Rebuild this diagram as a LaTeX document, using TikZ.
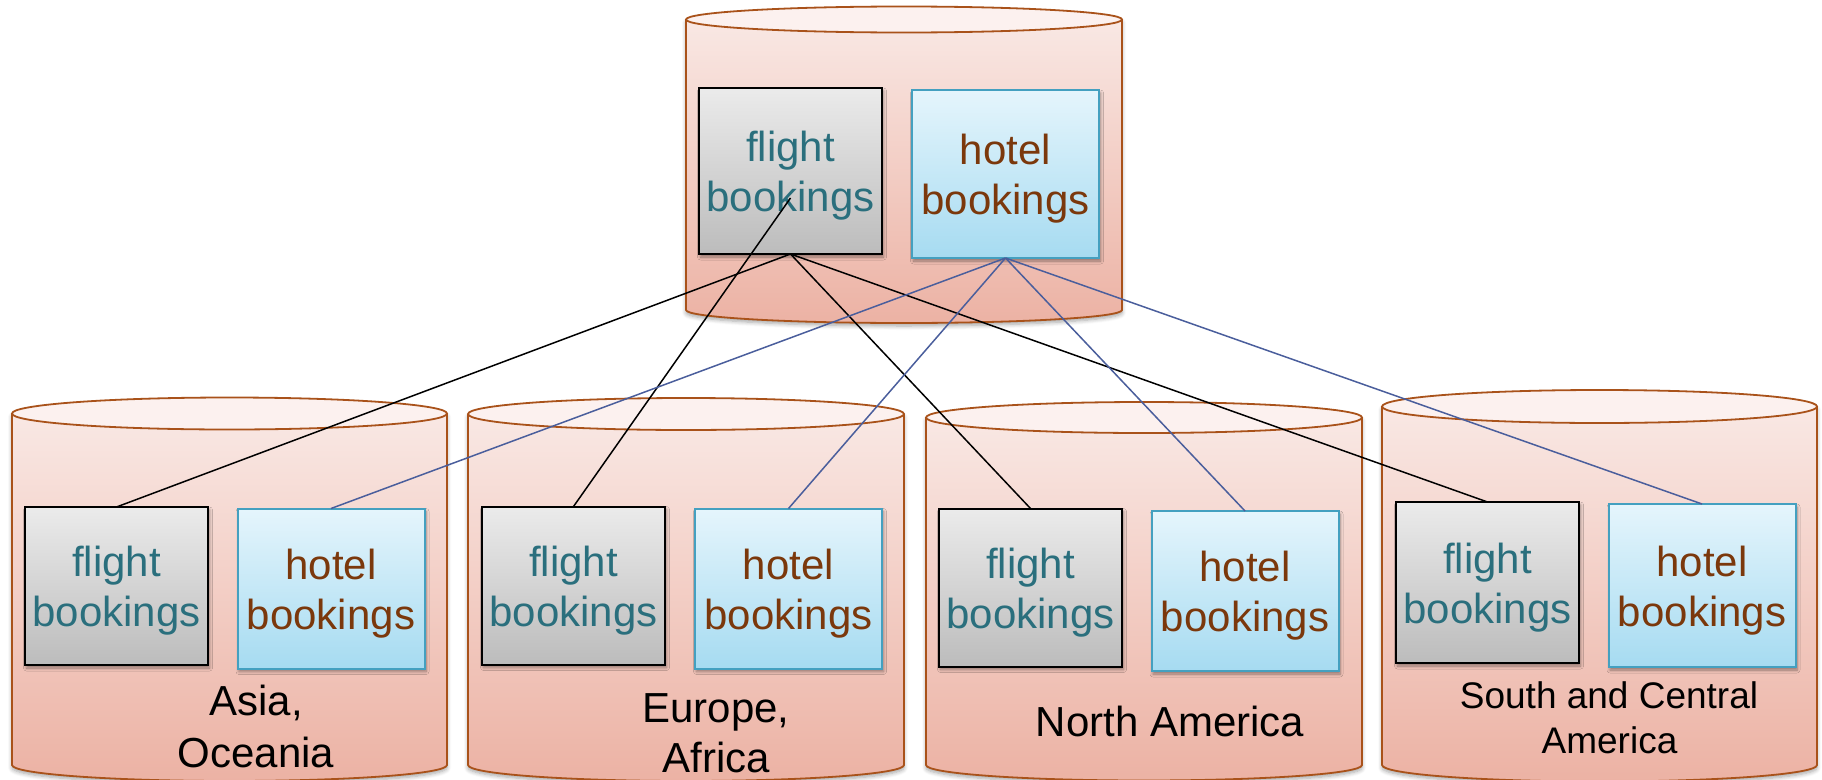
\documentclass[tikz,border=0pt]{standalone}
\usepackage{fontspec}
\setmainfont{Liberation Sans}
\usetikzlibrary{shadows.blur}

\definecolor{cyledge}{HTML}{A9521A}
\definecolor{cylhi}{HTML}{F9E8E4}
\definecolor{cyllo}{HTML}{ECB2A4}
\definecolor{cyllid}{HTML}{FCF1EF}
\definecolor{flighthi}{HTML}{EBEBEB}
\definecolor{flightlo}{HTML}{BCBCBC}
\definecolor{hotelhi}{HTML}{E5F5FC}
\definecolor{hotello}{HTML}{A6DBF1}
\definecolor{hoteledge}{HTML}{44A0C0}
\definecolor{flighttext}{HTML}{2A6F7D}
\definecolor{hoteltext}{HTML}{7B380C}
\definecolor{hotelwire}{HTML}{4A5E9C}

\tikzset{
  cylbody/.style={top color=cylhi, bottom color=cyllo,
    blur shadow={shadow xshift=0pt, shadow yshift=-3pt, shadow opacity=35,
      shadow blur radius=4pt, shadow blur steps=6}},
  cylrim/.style={draw=cyledge, line width=1.8pt},
  cyllidstyle/.style={draw=cyledge, line width=1.8pt, fill=cyllid},
  boxshadow/.style={blur shadow={shadow xshift=1.5pt, shadow yshift=-3pt,
      shadow opacity=40, shadow blur radius=3pt, shadow blur steps=6}},
  flightbox/.style={rectangle, draw=black, line width=2pt, outer sep=0pt,
    top color=flighthi, bottom color=flightlo, boxshadow,
    minimum width=183pt, minimum height=158pt},
  hotelbox/.style={rectangle, draw=hoteledge, line width=2pt, outer sep=0pt,
    top color=hotelhi, bottom color=hotello, boxshadow,
    minimum width=187pt, minimum height=160pt},
  boxtext/.style={align=center, inner sep=0pt,
    font=\fontsize{42}{50}\selectfont},
  flighttxt/.style={boxtext, text=flighttext},
  hoteltxt/.style={boxtext, text=hoteltext},
  regiontxt/.style={anchor=base, inner sep=0pt, text=black,
    font=\fontsize{42}{50}\selectfont},
  regionsmall/.style={regiontxt, font=\fontsize{37}{45}\selectfont},
  fwire/.style={draw=black, line width=1.5pt},
  hwire/.style={draw=hotelwire, line width=1.5pt},
}

% database cylinder: centre x, half width, lid centre y, base centre y, lid radius
\newcommand{\dbcylinder}[5]{%
  \shade[cylbody] (#1-#2,#3) -- (#1-#2,#4)
    arc[start angle=180, end angle=360, x radius=#2, y radius=#5]
    -- (#1+#2,#3) -- cycle;
  \draw[cylrim] (#1-#2,#3) -- (#1-#2,#4)
    arc[start angle=180, end angle=360, x radius=#2, y radius=#5]
    -- (#1+#2,#3);
  \draw[cyllidstyle] (#1,#3) ellipse[x radius=#2, y radius=#5];
}

\begin{document}
\begin{tikzpicture}[x=1pt, y=1pt]
\useasboundingbox (0,0) rectangle (1822,-779);

% central store and the four regional stores
\dbcylinder{904}{218}{-19.5}{-310}{13}
\dbcylinder{229.5}{217.5}{-413.5}{-765}{16}
\dbcylinder{686}{218}{-414}{-765}{16}
\dbcylinder{1144}{218}{-417.5}{-765}{15.5}
\dbcylinder{1599.5}{217.5}{-406.5}{-765}{16.5}

% tables of the central store
\node[flightbox, minimum height=166pt] (fTop) at (790.5,-171) {};
\node[hotelbox, minimum height=168pt] (hTop) at (1005.5,-174) {};

% tables of the regional stores
\node[flightbox] (fA) at (116.5,-586) {};
\node[hotelbox]  (hA) at (331,-588.5) {};
\node[flightbox] (fE) at (573.5,-585.5) {};
\node[hotelbox]  (hE) at (788.5,-588.5) {};
\node[flightbox] (fN) at (1030.5,-587.5) {};
\node[hotelbox]  (hN) at (1245,-591) {};
\node[flightbox, minimum height=161pt] (fS) at (1487.5,-582.5) {};
\node[hotelbox, minimum height=163pt]  (hS) at (1702,-585.5) {};

% table labels
\foreach \b in {fTop,fA,fE,fN,fS}
  \node[flighttxt] (\b T) at ([yshift=-5pt]\b.center) {flight\\bookings};
\foreach \b in {hTop,hA,hE,hN,hS}
  \node[hoteltxt] (\b T) at ([yshift=-5pt]\b.center) {hotel\\bookings};

% region names
\node[regiontxt] (asia1) at (256,-715) {Asia,};
\node[regiontxt] (asia2) at (256,-767) {Oceania};
\node[regiontxt] (eur1) at (716,-722) {Europe,};
\node[regiontxt] (eur2) at (716,-772) {Africa};
\node[regiontxt] (nam) at (1170,-736) {North America};
\node[regionsmall] (sam1) at (1609,-708) {South and Central};
\node[regionsmall] (sam2) at (1609.5,-753) {America};

% links between the central tables and the regional ones
\coordinate (fTopIn) at ([yshift=-27pt]fTop.center);
\draw[fwire] (fTop.south) -- (fA.north);
\draw[fwire] (fE.north) -- (fTopIn);
\draw[fwire] (fTop.south) -- (fN.north);
\draw[fwire] (fTop.south) -- (fS.north);
\draw[hwire] (hTop.south) -- (hA.north);
\draw[hwire] (hTop.south) -- (hE.north);
\draw[hwire] (hTop.south) -- (hN.north);
\draw[hwire] (hTop.south) -- (hS.north);
\end{tikzpicture}
\end{document}
